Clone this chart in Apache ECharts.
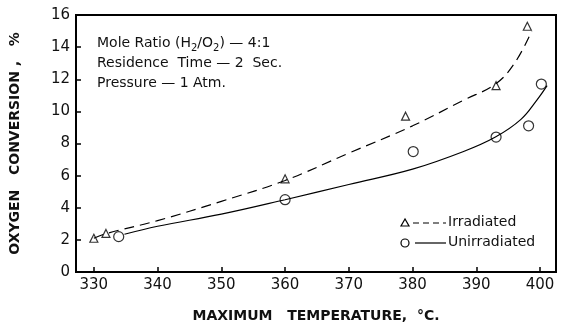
<!DOCTYPE html>
<html>
<head>
<meta charset="utf-8">
<script src="https://cdn.jsdelivr.net/npm/echarts@6/dist/echarts.min.js"></script>
<style>
  html, body { margin: 0; padding: 0; background: #fff; }
  #chart { width: 563px; height: 328px; }
</style>
</head>
<body>
<div id="chart"></div>
<script>
// measured points (temperature °C, O2 conversion %)
const irradiatedPts = [[330.0, 2.1], [331.9, 2.4], [360.0, 5.8], [378.9, 9.7], [393.1, 11.6], [398.0, 15.3]];
const unirradiatedPts = [[333.9, 2.2], [360.0, 4.5], [380.1, 7.5], [393.1, 8.4], [398.2, 9.1], [400.2, 11.7]];

// hand-drawn fit curves
const irradiatedCurve = [[330.0, 2.1], [332.0, 2.4], [340, 3.2], [350, 4.4], [360, 5.7], [370, 7.4], [380, 9.1], [388, 10.7], [393, 11.7], [396, 13.0], [398.7, 15.0]];
const unirradiatedCurve = [[334.8, 2.35], [340, 2.85], [350, 3.6], [360, 4.5], [370, 5.45], [380, 6.4], [388, 7.5], [393, 8.4], [397, 9.5], [399.5, 10.7], [401.1, 11.6]];

const xTicks = [330, 340, 350, 360, 370, 380, 390, 400];

const font = '"DejaVu Sans", sans-serif';
const chart = echarts.init(document.getElementById('chart'));

chart.setOption({
  animation: false,
  backgroundColor: '#fff',
  grid: { left: 73, right: 7, top: 15, bottom: 53, show: true, borderColor: '#000', borderWidth: 2 },
  xAxis: {
    type: 'value', min: 327.2, max: 402.5,
    name: 'MAXIMUM   TEMPERATURE,  °C.', nameLocation: 'middle', nameGap: 37,
    nameTextStyle: { fontFamily: font, fontSize: 14, fontWeight: 'bold', color: '#111' },
    axisLine: { lineStyle: { color: '#000', width: 2 } },
    axisTick: { inside: true, length: 5, customValues: xTicks, lineStyle: { color: '#000', width: 1.5 } },
    axisLabel: { customValues: xTicks, fontFamily: font, fontSize: 15, color: '#111', margin: 6 },
    splitLine: { show: false }
  },
  yAxis: {
    type: 'value', min: 0, max: 16, interval: 2,
    name: 'OXYGEN   CONVERSION ,   %', nameLocation: 'middle', nameGap: 54, nameRotate: 90,
    nameTextStyle: { fontFamily: font, fontSize: 14, fontWeight: 'bold', color: '#111' },
    axisLine: { show: true, lineStyle: { color: '#000', width: 2 } },
    axisTick: { show: true, inside: true, length: 5, lineStyle: { color: '#000', width: 1.5 } },
    axisLabel: { fontFamily: font, fontSize: 15, color: '#111', margin: 6 },
    splitLine: { show: false }
  },
  series: [
    {
      name: 'Irradiated fit', type: 'line', data: irradiatedCurve, smooth: 0.4, showSymbol: false,
      lineStyle: { color: '#000', width: 1.2, type: [10, 6] }, silent: true
    },
    {
      name: 'Unirradiated fit', type: 'line', data: unirradiatedCurve, smooth: 0.4, showSymbol: false,
      lineStyle: { color: '#000', width: 1.2 }, silent: true
    },
    {
      name: 'Irradiated', type: 'scatter', data: irradiatedPts, symbol: 'triangle', symbolSize: 8,
      itemStyle: { color: '#fff', borderColor: '#000', borderWidth: 1.2 }
    },
    {
      name: 'Unirradiated', type: 'scatter', data: unirradiatedPts, symbol: 'circle', symbolSize: 10,
      itemStyle: { color: '#fff', borderColor: '#000', borderWidth: 1.2 }
    }
  ],
  graphic: [
    {
      type: 'text', left: 97, top: 33,
      style: {
        text: '{a|Mole Ratio (H}{s|2}{a|/O}{s|2}{a|) — 4:1}\n{a|Residence  Time — 2  Sec.}\n{a|Pressure — 1 Atm.}',
        lineHeight: 20,
        rich: {
          a: { fontFamily: font, fontSize: 14, fill: '#111', lineHeight: 20 },
          s: { fontFamily: font, fontSize: 10, fill: '#111', lineHeight: 20, verticalAlign: 'bottom', padding: [6, 0, 0, 0] }
        }
      }
    },
    // legend
    { type: 'polygon', shape: { points: [[405, 219], [401, 226], [409, 226]] }, style: { fill: '#fff', stroke: '#000', lineWidth: 1.2 } },
    { type: 'line', shape: { x1: 413, y1: 223, x2: 446, y2: 223 }, style: { stroke: '#000', lineWidth: 1.2, lineDash: [6, 4] } },
    { type: 'text', left: 448, top: 215, style: { text: 'Irradiated', fontFamily: font, fontSize: 14, fill: '#111' } },
    { type: 'circle', shape: { cx: 405, cy: 243, r: 4 }, style: { fill: '#fff', stroke: '#000', lineWidth: 1.2 } },
    { type: 'line', shape: { x1: 415, y1: 243, x2: 446, y2: 243 }, style: { stroke: '#000', lineWidth: 1.2 } },
    { type: 'text', left: 448, top: 235, style: { text: 'Unirradiated', fontFamily: font, fontSize: 14, fill: '#111' } }
  ]
});
</script>
</body>
</html>
